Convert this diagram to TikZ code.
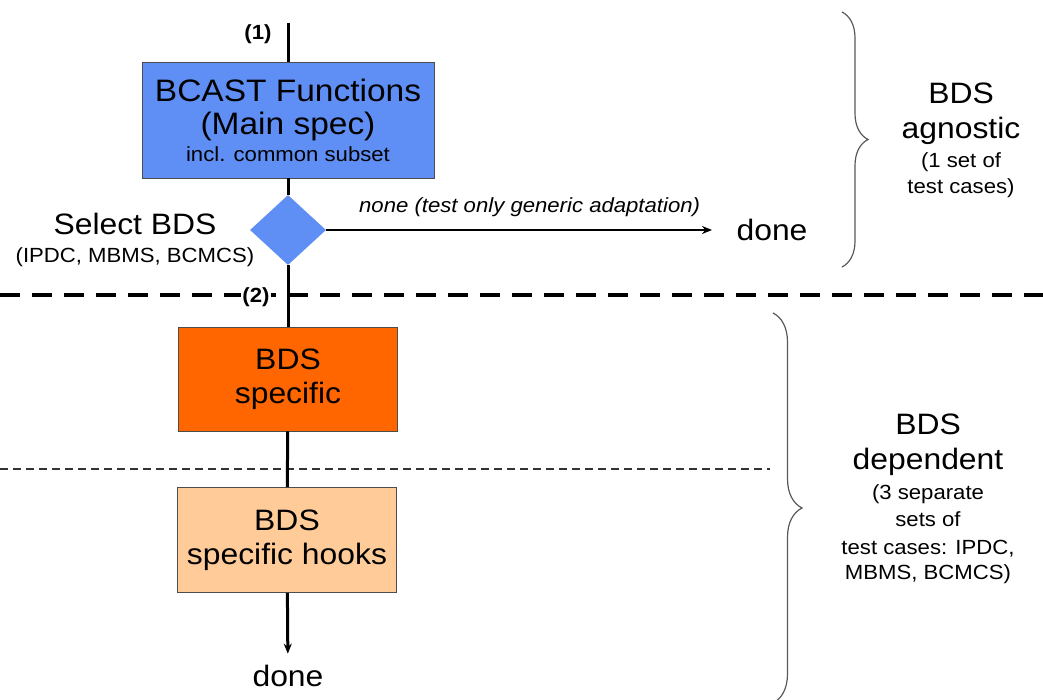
\documentclass[tikz,border=0pt]{standalone}
\usepackage{fontspec}
\setmainfont{Liberation Sans}[FakeStretch=1.08]
\usetikzlibrary{shapes.geometric,arrows.meta,decorations.pathreplacing}
\definecolor{bcblue}{HTML}{5F8FF5}
\definecolor{bdsorange}{HTML}{FF6600}
\definecolor{hookorange}{HTML}{FFCC99}
\newcommand{\bigtxt}{\fontsize{29.5}{34}\selectfont}
\newcommand{\smtxt}{\fontsize{20.5}{24}\selectfont}

\begin{document}
\begin{tikzpicture}[x=1pt,y=-1pt]
	\tikzset{stage/.style={draw=black!70,line width=0.8pt,minimum width=219pt,minimum height=104pt,align=center,font=\bigtxt,inner sep=0pt}}
	\tikzset{choice/.style={diamond,fill=bcblue,minimum width=76pt,minimum height=70pt,inner sep=0pt}}
	\tikzset{flow/.style={line width=3pt}}
	\tikzset{tag/.style={font=\smtxt\bfseries}}
	\tikzset{grp/.style={draw=black!65,line width=1.2pt,decorate,decoration={brace,amplitude=#1}}}
	\useasboundingbox (0,0) rectangle (1043,700);
	\coordinate (top) at (288,23);
	\node[tag] (one) at (258,34) {(1)};
	\node[stage,fill=bcblue,minimum width=292pt,minimum height=116pt,font=\fontsize{31}{33}\selectfont] (bcast) at (288,120) {BCAST Functions\\(Main spec)\\[-6pt]{\smtxt incl. common subset}};
	\node[choice] (sel) at (288,230) {};
	\node[align=center,font=\bigtxt] (selname) at (135,240) {Select BDS\\[-6pt]{\smtxt (IPDC, MBMS, BCMCS)}};
	\node[font=\bigtxt] (edone) at (772,230) {done};
	\draw[line width=3.5pt,dash pattern=on 20pt off 12pt] (0,295) -- (1043,295);
	\node[tag,fill=white,inner sep=1pt] (two) at (256,297) {(2)};
	\node[stage,fill=bdsorange] (spec) at (288,379) {BDS\\specific};
	\draw[line width=2.5pt,black!80,dash pattern=on 8pt off 5pt] (0,469) -- (770,469);
	\node[stage,fill=hookorange,minimum height=105pt] (hooks) at (287,540) {BDS\\specific hooks};
	\node[font=\bigtxt] (done) at (288,676) {done};
	\draw[flow] (top) -- (bcast);
	\draw[flow] (bcast) -- (sel);
	\draw[flow] (sel) -- (spec);
	\draw[flow] (spec) -- (hooks);
	\draw[flow,-{Stealth[length=10pt,width=8pt]},shorten >=8pt] (hooks) -- (done);
	\draw[line width=2.2pt,-{Stealth[length=10pt,width=8pt]},shorten >=21pt] (sel.east) -- (edone.west) node[midway,above=9pt,font=\smtxt\itshape] (nolbl) {none (test only generic adaptation)};
	\draw[grp=26pt] (842,12) -- (842,267);
	\node[align=center,font=\bigtxt] (agn) at (961,140) {BDS\\[1pt]agnostic\\[-5pt]{\smtxt (1 set of}\\[-8pt]{\smtxt test cases)}};
	\draw[grp=29pt] (773,313) -- (773,703);
	\node[align=center,font=\bigtxt] (dep) at (928,499) {BDS\\[1pt]dependent\\[-4pt]{\smtxt (3 separate}\\[-7pt]{\smtxt sets of}\\[-6pt]{\smtxt test cases: IPDC,}\\[-9pt]{\smtxt MBMS, BCMCS)}};
\end{tikzpicture}
\end{document}
